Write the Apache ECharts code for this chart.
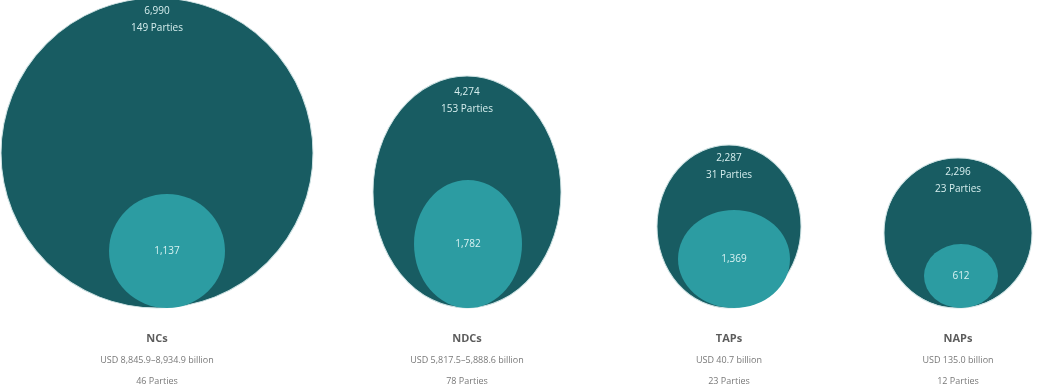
<!DOCTYPE html>
<html>
<head>
<meta charset="utf-8">
<script src="https://cdn.jsdelivr.net/npm/echarts@6/dist/echarts.min.js"></script>
<style>
  html, body { margin: 0; padding: 0; background: #fff; }
  #chart { width: 1053px; height: 391px; }
</style>
</head>
<body>
<div id="chart"></div>
<script>
// data
var categories = ['NCs', 'NDCs', 'TAPs', 'NAPs'];
var outerValues = [6990, 4274, 2287, 2296];
var outerParties = [149, 153, 31, 23];
var innerValues = [1137, 1782, 1369, 612];
var costLabels = ['USD 8,845.9\u20138,934.9 billion', 'USD 5,817.5\u20135,888.6 billion', 'USD 40.7 billion', 'USD 135.0 billion'];
var costParties = [46, 78, 23, 12];

// layout (not data)
var outerX = [157, 467, 729, 958];
var innerX = [167, 468, 734, 961];
var outerSize = [[312, 310], [188, 232], [144, 163], [148, 150]];
var innerSize = [[116, 114], [108, 128], [112, 98], [74, 64]];
var labelTop = [5, 8, 5, 6];

function fmt(n) {
    return n.toLocaleString('en-US');
}

var dom = document.getElementById('chart');
var myChart = echarts.init(dom);

myChart.setOption({
    animation: false,
    grid: { left: 0, right: 0, top: 0, bottom: 83 },
    xAxis: { type: 'value', min: 0, max: 1053, show: false },
    yAxis: { type: 'value', min: 0, max: 1, show: false },
    series: [
        {
            name: 'outer',
            type: 'scatter',
            symbol: 'circle',
            data: outerValues.map(function (v, i) {
                return {
                    value: [outerX[i], 0, v],
                    symbolSize: outerSize[i],
                    symbolOffset: [0, -outerSize[i][1] / 2],
                    label: { distance: labelTop[i] }
                };
            }),
            itemStyle: { color: '#185c62', opacity: 1, borderColor: '#cfe3e4', borderWidth: 1 },
            label: {
                show: true,
                position: 'insideTop',
                color: '#d6eeee',
                fontFamily: 'Open Sans',
                fontSize: 10,
                lineHeight: 17,
                formatter: function (p) {
                    return fmt(outerValues[p.dataIndex]) + '\n' + outerParties[p.dataIndex] + ' Parties';
                }
            },
            z: 2
        },
        {
            name: 'inner',
            type: 'scatter',
            symbol: 'circle',
            data: innerValues.map(function (v, i) {
                return {
                    value: [innerX[i], 0, v],
                    symbolSize: innerSize[i],
                    symbolOffset: [0, -innerSize[i][1] / 2]
                };
            }),
            itemStyle: { color: '#2c9ca2', opacity: 1 },
            label: {
                show: true,
                position: 'inside',
                color: '#d8f2f2',
                fontFamily: 'Open Sans',
                fontSize: 10,
                formatter: function (p) {
                    return fmt(innerValues[p.dataIndex]);
                }
            },
            z: 3
        },
        {
            name: 'caption',
            type: 'scatter',
            symbolSize: 0,
            data: categories.map(function (c, i) {
                return [outerX[i], 0];
            }),
            label: {
                show: true,
                position: 'bottom',
                distance: 20,
                align: 'center',
                formatter: function (p) {
                    var i = p.dataIndex;
                    return '{t|' + categories[i] + '}\n{s|' + costLabels[i] + '}\n{s|' + costParties[i] + ' Parties}';
                },
                rich: {
                    t: { fontFamily: 'Open Sans', fontSize: 11, fontWeight: 'bold', color: '#333', lineHeight: 22 },
                    s: { fontFamily: 'Open Sans', fontSize: 9, color: '#555', lineHeight: 21 }
                }
            }
        }
    ]
});
window.addEventListener('resize', function () {
    myChart.resize();
});
</script>
</body>
</html>
